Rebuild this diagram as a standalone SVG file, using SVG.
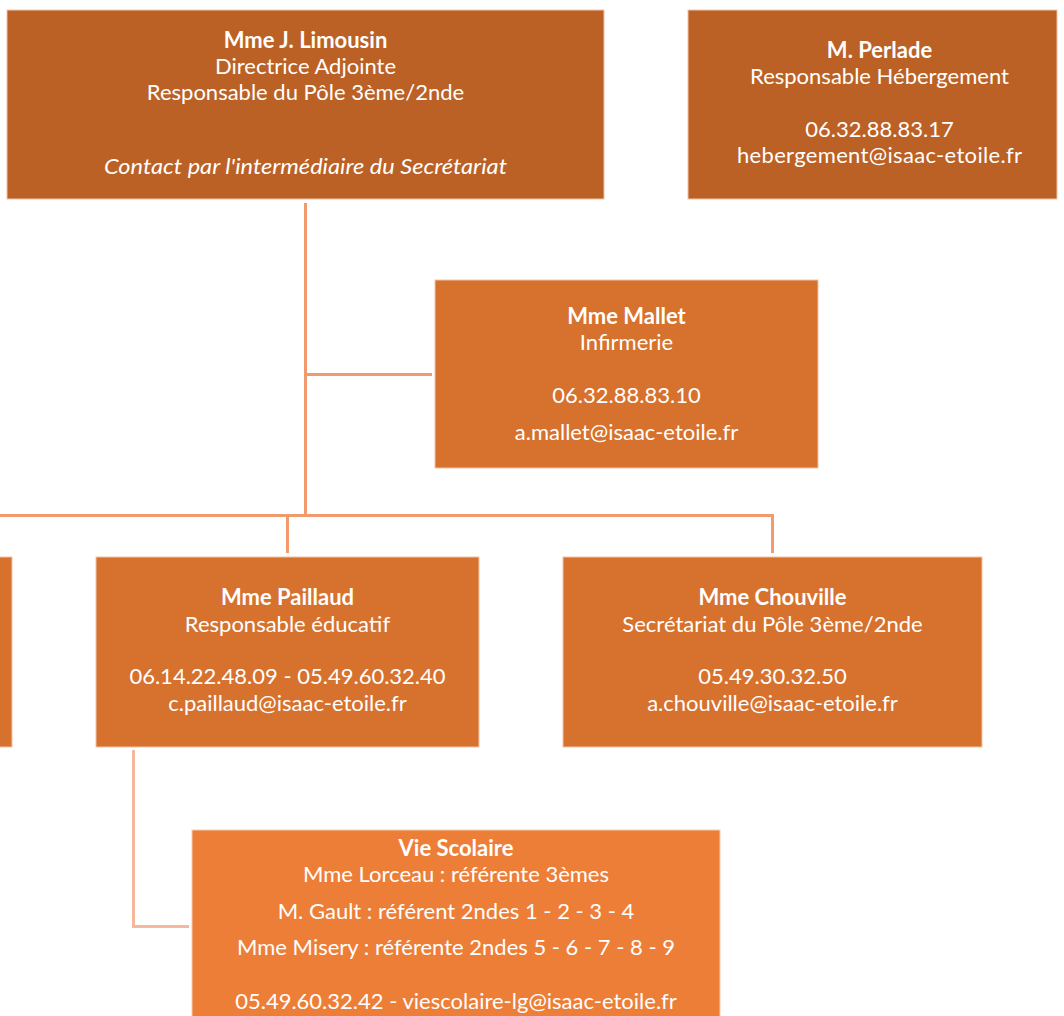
<svg xmlns="http://www.w3.org/2000/svg" width="1064" height="1016" viewBox="0 0 1064 1016">
<style>
.n1{fill:#BC6125;stroke:#F2C4A6;stroke-width:1}
.n2{fill:#D7712E;stroke:#F2C4A6;stroke-width:1}
.n3{fill:#ED7E38;stroke:#F8CBAD;stroke-width:1}
text{font-family:Lato,"Liberation Sans",sans-serif;font-size:22px;fill:#FFFFFF;text-anchor:middle}
.b{font-weight:bold}
.i{font-style:italic}
.c{fill:none;stroke:#F09A6E;stroke-width:3}
.c2{fill:none;stroke:#F5B89C;stroke-width:3}
</style>
<rect width="1064" height="1016" fill="#FFFFFF"/>
<g id="connectors">
<path class="c" d="M305.5 203 V515.5"/>
<path class="c" d="M305.5 374.5 H432"/>
<path class="c" d="M0 515.5 H772.5 V553"/>
<path class="c" d="M287.5 515.5 V553"/>
<path class="c2" d="M133.5 750 V926.5 H189"/>
</g>
<g id="limousin">
<rect class="n1" x="7" y="10" width="597" height="189"/>
<text x="305.5" y="48" class="b">Mme J. Limousin</text>
<text x="305.5" y="74">Directrice Adjointe</text>
<text x="305.5" y="100">Responsable du Pôle 3ème/2nde</text>
<text x="305.5" y="174" class="i" textLength="403" lengthAdjust="spacingAndGlyphs">Contact par l'intermédiaire du Secrétariat</text>
</g>
<g id="perlade">
<rect class="n1" x="688" y="10" width="369" height="189"/>
<text x="879.5" y="58" class="b">M. Perlade</text>
<text x="879.5" y="84">Responsable Hébergement</text>
<text x="879.5" y="137">06.32.88.83.17</text>
<text x="879.5" y="163" textLength="285">hebergement@isaac-etoile.fr</text>
</g>
<g id="mallet">
<rect class="n2" x="435" y="280" width="383" height="188"/>
<text x="626.5" y="324" class="b">Mme Mallet</text>
<text x="626.5" y="350">Infirmerie</text>
<text x="626.5" y="403">06.32.88.83.10</text>
<text x="626.5" y="440">a.mallet@isaac-etoile.fr</text>
</g>
<g id="partial">
<rect class="n2" x="-2" y="557" width="14" height="190"/>
</g>
<g id="paillaud">
<rect class="n2" x="96" y="557" width="383" height="190"/>
<text x="287.5" y="605" class="b">Mme Paillaud</text>
<text x="287.5" y="632">Responsable éducatif</text>
<text x="287.5" y="684">06.14.22.48.09 - 05.49.60.32.40</text>
<text x="287.5" y="711">c.paillaud@isaac-etoile.fr</text>
</g>
<g id="chouville">
<rect class="n2" x="563" y="557" width="419" height="190"/>
<text x="772.5" y="605" class="b">Mme Chouville</text>
<text x="772.5" y="632">Secrétariat du Pôle 3ème/2nde</text>
<text x="772.5" y="684">05.49.30.32.50</text>
<text x="772.5" y="711">a.chouville@isaac-etoile.fr</text>
</g>
<g id="viescolaire">
<rect class="n3" x="192" y="830" width="528" height="200"/>
<text x="456" y="856" class="b">Vie Scolaire</text>
<text x="456" y="882">Mme Lorceau : référente 3èmes</text>
<text x="456" y="919">M. Gault : référent 2ndes 1 - 2 - 3 - 4</text>
<text x="456" y="955">Mme Misery : référente 2ndes 5 - 6 - 7 - 8 - 9</text>
<text x="456" y="1009">05.49.60.32.42 - viescolaire-lg@isaac-etoile.fr</text>
</g>
</svg>
